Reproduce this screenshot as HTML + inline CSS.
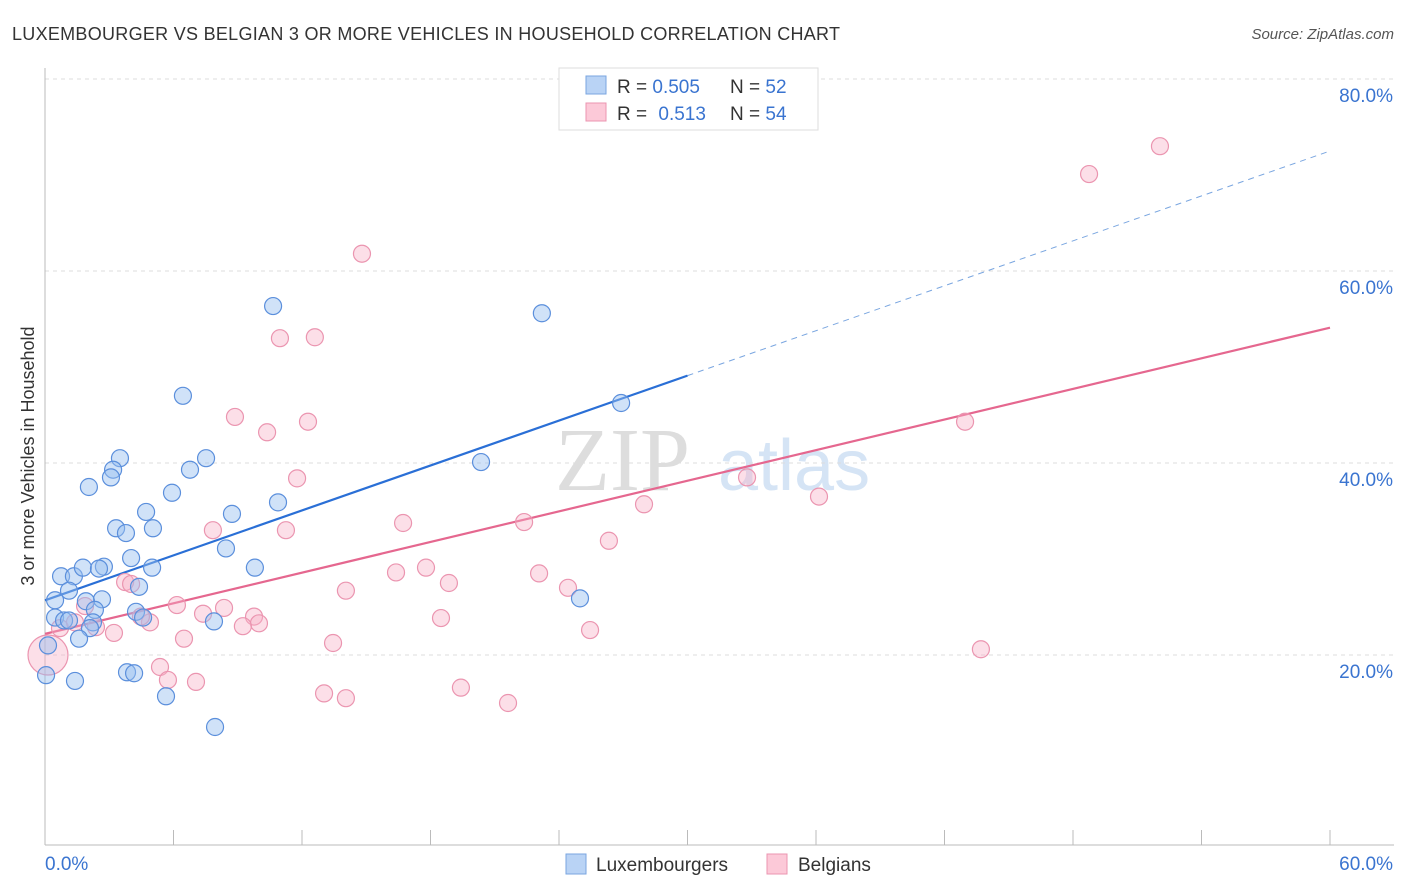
<!DOCTYPE html>
<html><head><meta charset="utf-8"><style>
body{margin:0;background:#fff;font-family:"Liberation Sans",sans-serif;}
svg{display:block}
</style></head><body>
<svg id="chart" width="1406" height="892" xmlns="http://www.w3.org/2000/svg">
<text x="12" y="40" font-size="18" fill="#333" textLength="828">LUXEMBOURGER VS BELGIAN 3 OR MORE VEHICLES IN HOUSEHOLD CORRELATION CHART</text>
<text x="1394" y="39" font-size="15" fill="#555" text-anchor="end" font-style="italic">Source: ZipAtlas.com</text>
<g>
<text x="555" y="490" font-size="90" fill="#ddd" font-family="Liberation Serif">ZIP</text>
<text x="718" y="490" font-size="72" fill="#d5e4f5">atlas</text>
</g>
<g id="grid"></g>
<g id="axes"></g>
<g id="trend"></g>
<g id="points"></g>
<text transform="translate(34,456) rotate(-90)" font-size="18" fill="#333" text-anchor="middle">3 or more Vehicles in Household</text>
<g>
<rect x="559" y="68" width="259" height="62" fill="#fff" stroke="#ddd"/>
<rect x="586" y="76" width="20" height="18" fill="#b9d3f5" stroke="#7aa6e0"/>
<rect x="586" y="103" width="20" height="18" fill="#fcc9d8" stroke="#eb95b0"/>
<text x="617" y="93" font-size="19" fill="#333">R = <tspan fill="#3a74d0">0.505</tspan></text>
<text x="730" y="93" font-size="19" fill="#333">N = <tspan fill="#3a74d0">52</tspan></text>
<text x="617" y="120" font-size="19" fill="#333">R = <tspan fill="#3a74d0" dx="6">0.513</tspan></text>
<text x="730" y="120" font-size="19" fill="#333">N = <tspan fill="#3a74d0">54</tspan></text>
</g>
<g>
<rect x="566" y="854" width="20" height="20" fill="#b9d3f5" stroke="#7aa6e0"/>
<text x="596" y="871" font-size="19" fill="#333">Luxembourgers</text>
<rect x="767" y="854" width="20" height="20" fill="#fcc9d8" stroke="#eb95b0"/>
<text x="798" y="871" font-size="19" fill="#333">Belgians</text>
</g>
</svg>
<script>
const yTicks=[20,40,60,80];
const yTickLabels=["20.0%","40.0%","60.0%","80.0%"];
const xTickLabels=["0.0%","60.0%"];
const blueX=[10.65,23.2,6.44,26.9,3.5,7.52,3.18,6.77,3.08,2.05,5.93,4.72,8.73,3.32,5.04,3.78,8.45,4.02,10.88,20.36,9.8,0.75,1.35,1.77,2.75,2.52,5.0,4.39,1.12,2.66,0.47,1.91,2.33,4.25,0.47,0.89,2.24,1.12,2.1,4.58,7.89,1.59,0.14,0.05,3.83,4.16,1.4,5.65,7.94,24.98];
const blueY=[56.35,55.6,47.0,46.25,40.5,40.5,39.3,39.3,38.5,37.5,36.9,34.9,34.7,33.2,33.2,32.7,31.1,30.1,35.9,40.1,29.1,28.2,28.2,29.1,29.2,29.0,29.1,27.1,26.7,25.8,25.7,25.6,24.7,24.5,23.9,23.6,23.4,23.6,22.8,23.9,23.5,21.7,21.0,17.9,18.2,18.1,17.3,15.7,12.5,25.9];
const pinkX=[52.06,48.75,14.8,10.97,12.6,42.96,8.87,12.28,10.37,11.77,32.78,36.14,27.97,16.72,22.37,7.84,11.25,26.33,14.05,16.39,17.79,18.86,23.07,24.42,3.74,4.02,6.16,1.87,7.38,8.36,9.76,9.99,9.24,4.9,4.48,2.38,3.22,0.7,1.4,6.49,13.45,18.49,25.45,43.7,5.37,5.74,7.05,13.03,14.05,19.42,21.62,0.14];
const pinkY=[73.0,70.1,61.8,53.0,53.1,44.3,44.8,44.3,43.2,38.4,38.5,36.5,35.7,33.75,33.85,33.0,33.0,31.9,26.7,28.6,29.1,27.5,28.5,27.0,27.6,27.4,25.2,25.1,24.3,24.9,24.0,23.3,23.0,23.4,24.0,22.9,22.3,22.8,23.4,21.7,21.25,23.85,22.6,20.6,18.75,17.4,17.2,16.0,15.5,16.6,15.0,20.0];
const blueTrend=[25.7,72.5];
const pinkTrend=[22.2,54.1];
const NS="http://www.w3.org/2000/svg";
const X=v=>45+v*(1285/60);
const Y=v=>847-v*9.6;
function mk(t,a,p){const e=document.createElementNS(NS,t);for(const k in a)e.setAttribute(k,a[k]);p.appendChild(e);return e;}
const grid=document.getElementById('grid'),axes=document.getElementById('axes'),tr=document.getElementById('trend'),pts=document.getElementById('points');
yTicks.forEach((t,i)=>{
 const l=mk('line',{x1:45,x2:1394,y1:Y(t),y2:Y(t),stroke:'#ddd','stroke-dasharray':'4,4'},grid);
 
 
 const tx=mk('text',{x:1393,y:Y(t)+23,'font-size':19,fill:'#3a74d0','text-anchor':'end'},axes);
 tx.textContent=yTickLabels[i];
 
 
});
mk('line',{x1:45,x2:45,y1:68,y2:845,stroke:'#bbb'},axes);
mk('line',{x1:45,x2:1394,y1:845,y2:845,stroke:'#bbb'},axes);
for(let i=1;i<=10;i++){const l=mk('line',{x1:X(i*6),x2:X(i*6),y1:830,y2:845,stroke:'#bbb'},axes);}
const xl0=mk('text',{x:45,y:870,'font-size':19,fill:'#3a74d0'},axes);xl0.textContent=xTickLabels[0];


const xl1=mk('text',{x:1393,y:870,'font-size':19,fill:'#3a74d0','text-anchor':'end'},axes);xl1.textContent=xTickLabels[1];


function drawPts(xs,ys,fill,stroke,name){xs.forEach((x,i)=>{const big=(name==='belgian-point'&&i===xs.length-1);const c=mk('circle',{cx:X(x),cy:Y(ys[i]),r:big?20:8.5,fill:fill,stroke:stroke,'stroke-width':1.2},pts);});}
drawPts(pinkX,pinkY,'rgba(247,175,198,0.4)','#eb95b0','belgian-point');
drawPts(blueX,blueY,'rgba(150,190,240,0.45)','#5b8fdc','luxembourger-point');
const bAt=v=>blueTrend[0]+(blueTrend[1]-blueTrend[0])*v/60;
const pAt=v=>pinkTrend[0]+(pinkTrend[1]-pinkTrend[0])*v/60;
const b1=mk('line',{x1:X(0),y1:Y(bAt(0)),x2:X(30),y2:Y(bAt(30)),stroke:'#2a6fd6','stroke-width':2.2},tr);


const b2=mk('line',{x1:X(30),y1:Y(bAt(30)),x2:X(60),y2:Y(bAt(60)),stroke:'#7aa6e0','stroke-width':1,'stroke-dasharray':'6,5'},tr);


const p1=mk('line',{x1:X(0),y1:Y(pAt(0)),x2:X(60),y2:Y(pAt(60)),stroke:'#e5678f','stroke-width':2.2},tr);


</script>
</body></html>
